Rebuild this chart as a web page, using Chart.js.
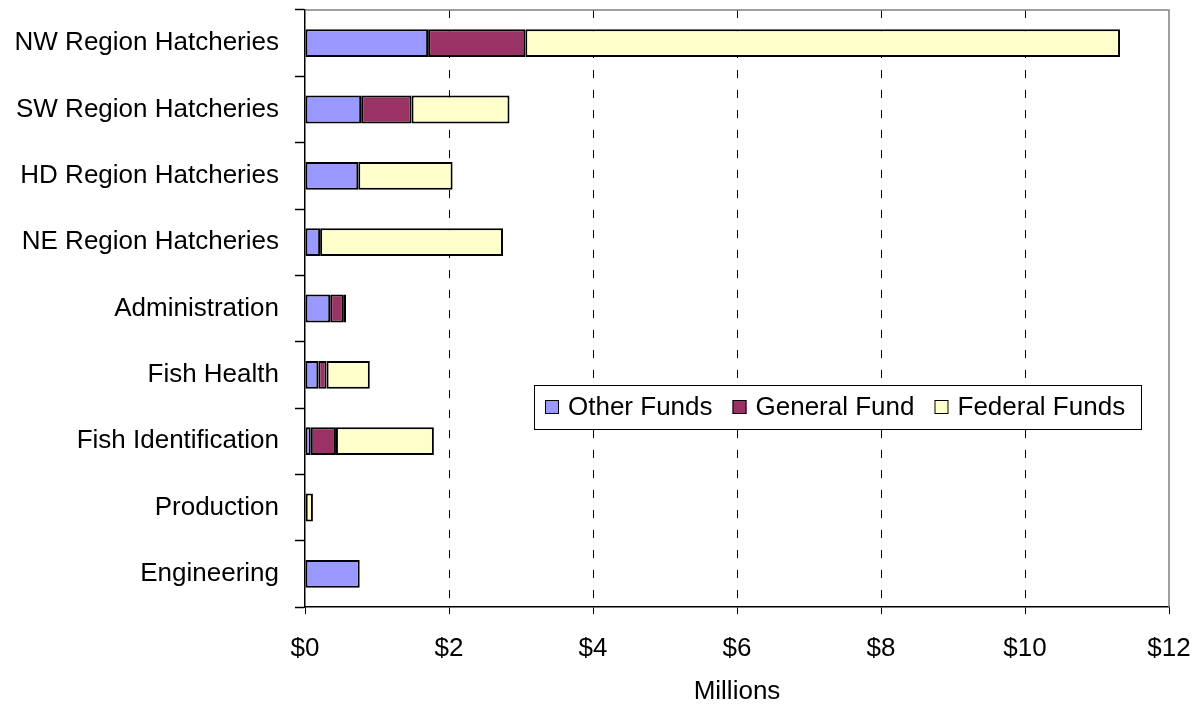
<!DOCTYPE html>
<html>
<head>
<meta charset="utf-8">
<script src="https://cdn.jsdelivr.net/npm/chart.js@4.4.0/dist/chart.umd.min.js"></script>
<style>
  body { margin: 0; background: #fff; }
</style>
</head>
<body>
<canvas id="chart" width="1203" height="708"></canvas>
<script>
const categories = [
    "NW Region Hatcheries",
    "SW Region Hatcheries",
    "HD Region Hatcheries",
    "NE Region Hatcheries",
    "Administration",
    "Fish Health",
    "Fish Identification",
    "Production",
    "Engineering",
];
// millions of dollars
const otherFunds   = [1.71, 0.78, 0.74, 0.21, 0.35, 0.185, 0.08, 0.01, 0.76];
const generalFund  = [1.35, 0.70, 0,    0,    0.19, 0.115, 0.35, 0,    0];
const federalFunds = [8.26, 1.36, 1.31, 2.54, 0.03, 0.60,  1.36, 0.10, 0];
const xTicks = [0, 2, 4, 6, 8, 10, 12];

const fontFamily = "'Liberation Sans', Arial, sans-serif";

// excel style legend box inside the plot + grey plot border
const excelBits = {
    id: "excelBits",
    afterDraw(chart) {
        const ctx = chart.ctx;
        const area = chart.chartArea;
        ctx.save();
        ctx.strokeStyle = "#808080";
        ctx.lineWidth = 1.5;
        ctx.beginPath();
        ctx.moveTo(area.left, area.top);
        ctx.lineTo(area.right, area.top);
        ctx.lineTo(area.right, area.bottom);
        ctx.stroke();

        const boxL = 534, boxT = 385, boxR = 1141, boxB = 429;
        ctx.fillStyle = "#fff";
        ctx.fillRect(boxL, boxT, boxR - boxL, boxB - boxT);
        ctx.strokeStyle = "#000";
        ctx.lineWidth = 1;
        ctx.strokeRect(boxL + 0.5, boxT + 0.5, boxR - boxL, boxB - boxT);

        ctx.font = "26px " + fontFamily;
        ctx.textBaseline = "middle";
        const cy = (boxT + boxB) / 2;
        let x = 545;
        chart.data.datasets.forEach((ds) => {
            ctx.fillStyle = ds.backgroundColor;
            ctx.fillRect(x, cy - 7, 14, 14);
            ctx.strokeStyle = "#000";
            ctx.strokeRect(x + 0.5, cy - 6.5, 13, 13);
            x += 14 + 9;
            ctx.fillStyle = "#000";
            ctx.fillText(ds.label, x, cy + 1);
            x += ctx.measureText(ds.label).width + 20;
        });
        ctx.restore();
    },
};

const chart = new Chart(document.getElementById("chart"), {
    type: "bar",
    data: {
        labels: categories,
        datasets: [
            { label: "Other Funds", data: otherFunds, backgroundColor: "#9999FF" },
            { label: "General Fund", data: generalFund, backgroundColor: "#993366" },
            { label: "Federal Funds", data: federalFunds, backgroundColor: "#FFFFCC" },
        ],
    },
    options: {
        indexAxis: "y",
        responsive: false,
        animation: false,
        datasets: {
            bar: {
                borderColor: "#000",
                borderWidth: 2,
                borderSkipped: false,
                barPercentage: 0.42,
                categoryPercentage: 1,
            },
        },
        layout: { padding: { top: 10, right: 34, bottom: 0, left: 0 } },
        plugins: {
            legend: { display: false },
            tooltip: { enabled: false },
        },
        scales: {
            x: {
                stacked: true,
                min: 0,
                max: 12,
                afterBuildTicks: (scale) => {
                    scale.ticks = xTicks.map((v) => ({ value: v }));
                },
                afterFit: (scale) => {
                    scale.height = 101;
                    scale.paddingLeft = 0;
                    scale.paddingRight = 0;
                },
                ticks: {
                    color: "#000",
                    font: { family: fontFamily, size: 26 },
                    padding: 19,
                    maxRotation: 0,
                    callback: (v) => "$" + v,
                },
                grid: {
                    color: (c) => (c.tick && (c.tick.value === 0 || c.tick.value === 12)) ? "rgba(0,0,0,0)" : "#000",
                    lineWidth: 1,
                    tickColor: "#000",
                    tickLength: 7,
                    tickWidth: 1,
                    tickBorderDash: [],
                },
                border: { display: true, color: "#000", width: 1.5, dash: [8, 12] },
                title: {
                    display: true,
                    text: "Millions",
                    color: "#000",
                    font: { family: fontFamily, size: 26 },
                    padding: { top: 0, bottom: 1 },
                },
            },
            y: {
                stacked: true,
                afterFit: (scale) => {
                    scale.width = 305;
                    scale.paddingTop = 0;
                    scale.paddingBottom = 0;
                },
                ticks: {
                    color: "#000",
                    font: { family: fontFamily, size: 26 },
                    padding: 16,
                },
                grid: {
                    drawOnChartArea: false,
                    tickColor: "#000",
                    tickLength: 10,
                    tickWidth: 1.5,
                },
                border: { display: true, color: "#000", width: 1.5 },
            },
        },
    },
    plugins: [excelBits],
});
</script>
</body>
</html>
